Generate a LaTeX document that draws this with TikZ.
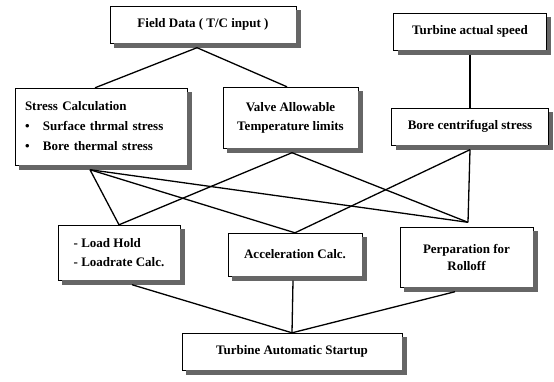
\documentclass[tikz,border=0pt]{standalone}
\usepackage{fontspec}
\setmainfont{Liberation Serif}

\tikzset{
  block/.style={draw, thin, fill=white, align=center, inner sep=2pt,
    font=\fontsize{13}{19}\selectfont\bfseries},
  shadowline/.style={draw=black!60, line width=4.5pt},
  link/.style={line width=1.3pt}
}

\begin{document}
\begin{tikzpicture}[x=1pt, y=-1pt]
    \useasboundingbox (0,0) rectangle (554,381);

    % Input boxes
    \node[block, minimum width=186pt, minimum height=37pt] (field) at (203,24.5) {Field Data ( T/C input )};
    \node[block, minimum width=153pt, minimum height=37pt] (speed) at (470,31.5) {Turbine actual speed};

    % Calculation boxes
    \node[block, align=left, text width=152pt, inner xsep=10pt, minimum height=77pt,
          font=\fontsize{13}{20}\selectfont\bfseries] (stress) at (101,126.5)
        {Stress Calculation\\
         \makebox[18pt][l]{\textbullet}Surface thrmal stress\\
         \makebox[18pt][l]{\textbullet}Bore thermal stress};
    \node[block, minimum width=135pt, minimum height=61pt] (valve) at (290.5,117.5) {Valve Allowable\\Temperature limits};
    \node[block, minimum width=157pt, minimum height=37pt] (bore) at (470,126.5) {Bore centrifugal stress};

    % Control boxes
    \node[block, align=left, minimum width=122pt, minimum height=55pt] (load) at (119,252.5) {- Load Hold\\- Loadrate Calc.};
    \node[block, minimum width=134pt, minimum height=43pt] (accel) at (295,254.5) {Acceleration Calc.};
    \node[block, minimum width=133pt, minimum height=60pt,
          font=\fontsize{13}{17}\selectfont\bfseries] (prep) at (466.5,257) {Perparation for\\Rolloff};

    % Output box
    \node[block, minimum width=220pt, minimum height=37pt] (auto) at (292,351.5) {Turbine Automatic Startup};

    % Shadows: thick strokes along the bottom and right of each box
    \foreach \n in {field, speed, stress, valve, bore, load, accel, prep, auto}
        \draw[shadowline] ([shift={(4.5pt,-2.25pt)}]\n.south west) -- ([shift={(2.25pt,-2.25pt)}]\n.south east)
                          -- ([shift={(2.25pt,-4.5pt)}]\n.north east);

    % Joint points under the shadows
    \coordinate (field-out) at ([xshift=-6pt,yshift=-4.5pt]field.south);
    \coordinate (stress-out) at ([xshift=-11pt,yshift=-4.5pt]stress.south);
    \coordinate (valve-out) at ([xshift=1.5pt,yshift=-4.5pt]valve.south);
    \coordinate (bore-out) at ([yshift=-4.5pt]bore.south);
    \coordinate (prep-in) at ([xshift=1.5pt,yshift=4.5pt]prep.north);

    % Connections
    \draw[link] (field-out) -- ([xshift=-6pt]stress.north);
    \draw[link] (field-out) -- ([xshift=-3.5pt]valve.north);
    \draw[link] ([yshift=-4.5pt]speed.south) -- (bore.north);

    \foreach \dest in {load.north, accel.north, prep-in}
        \draw[link] (stress-out) -- (\dest);
    \foreach \dest in {load.north, prep-in}
        \draw[link] (valve-out) -- (\dest);
    \foreach \dest in {accel.north, prep-in}
        \draw[link] (bore-out) -- (\dest);

    \draw[link] ([xshift=13pt,yshift=-4.5pt]load.south) -- (auto.north);
    \draw[link] ([xshift=-2pt,yshift=-4.5pt]accel.south) -- (auto.north);
    \draw[link] ([xshift=-11.5pt,yshift=-4.5pt]prep.south) -- (auto.north);
\end{tikzpicture}
\end{document}
